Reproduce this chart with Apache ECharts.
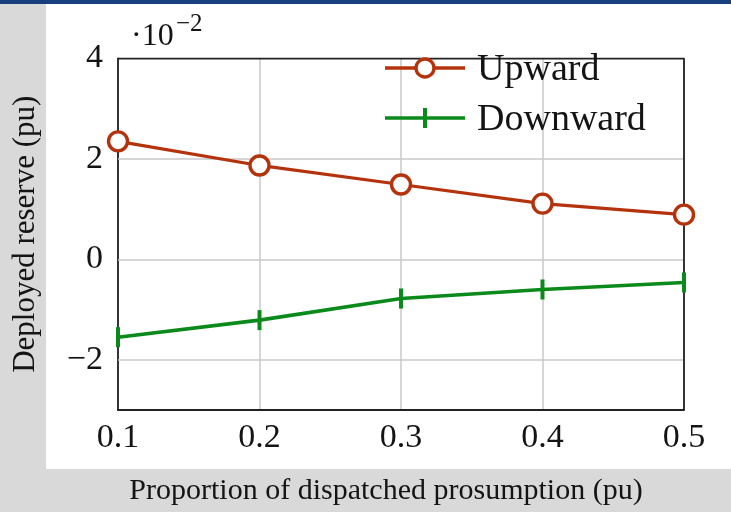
<!DOCTYPE html>
<html>
<head>
<meta charset="utf-8">
<script src="https://cdn.jsdelivr.net/npm/echarts@6/dist/echarts.min.js"></script>
<style>
  html, body { margin: 0; padding: 0; background: #d9d9d9; }
  #chart { width: 731px; height: 512px; }
</style>
</head>
<body>
<div id="chart"></div>
<script>
// Proportion of dispatched prosumption (pu)
const proportions = [0.1, 0.2, 0.3, 0.4, 0.5];
// Deployed reserve, in units of 10^-2 pu
const upward = [2.35, 1.87, 1.49, 1.11, 0.89];
const downward = [-1.55, -1.21, -0.78, -0.60, -0.46];
// labelled y ticks (horizontal grid lines sit on these)
const yTicks = [4, 2, 0, -2];
const seriesNames = ['Upward', 'Downward'];

const serif = '"Liberation Serif", "DejaVu Serif", serif';
const ink = '#141414';
const redColor = '#b5330c';
const greenColor = '#0a8a1a';
const gridColor = '#c9c9c9';

const chart = echarts.init(document.getElementById('chart'), null, { renderer: 'canvas' });

const pairs = (vals) => proportions.map((x, i) => [x, vals[i]]);

// legend drawn by hand: line + marker + label
const legendRow = (y, name, color, marker) => [
  { type: 'line', z: 20, shape: { x1: 385, y1: y, x2: 465, y2: y }, style: { stroke: color, lineWidth: 3.4 } },
  marker,
  {
    type: 'text', z: 20, x: 477, y: y + 2,
    style: { text: name, fontFamily: serif, fontSize: 38, fill: ink, verticalAlign: 'middle' }
  }
];

chart.setOption({
  backgroundColor: '#d9d9d9',
  animation: false,
  graphic: [
    { type: 'rect', z: -10, shape: { x: 0, y: 0, width: 731, height: 4 }, style: { fill: '#163f7c' } },
    { type: 'rect', z: -10, shape: { x: 46, y: 4, width: 685, height: 465 }, style: { fill: '#ffffff' } },
    {
      type: 'text', x: 131, y: 37,
      style: { text: '·10', fontFamily: serif, fontSize: 32, fill: ink, verticalAlign: 'middle' }
    },
    {
      type: 'text', x: 176, y: 24,
      style: { text: '−2', fontFamily: serif, fontSize: 25, fill: ink, verticalAlign: 'middle' }
    },
    {
      type: 'text', x: 386, y: 491,
      style: {
        text: 'Proportion of dispatched prosumption (pu)', fontFamily: serif, fontSize: 30, fill: ink,
        align: 'center', verticalAlign: 'middle'
      }
    },
    ...legendRow(68, seriesNames[0], redColor, {
      type: 'circle', z: 21, shape: { cx: 425, cy: 68, r: 9 },
      style: { fill: '#ffffff', stroke: redColor, lineWidth: 3.4 }
    }),
    ...legendRow(118, seriesNames[1], greenColor, {
      type: 'rect', z: 21, shape: { x: 423, y: 108, width: 4, height: 20 },
      style: { fill: greenColor }
    })
  ],
  grid: { left: 118, right: 47, top: 58.5, bottom: 102 },
  xAxis: {
    type: 'value', min: 0.1, max: 0.5, interval: 0.1,
    axisLine: { show: true, onZero: false, lineStyle: { color: '#222', width: 1.8 } },
    axisTick: { show: false },
    splitLine: { show: true, lineStyle: { color: gridColor, width: 1.5 } },
    axisLabel: {
      fontFamily: serif, fontSize: 34, color: ink, margin: 11,
      formatter: (v) => v.toFixed(1)
    }
  },
  yAxis: {
    type: 'value', min: -3, max: 4, interval: 1,
    name: 'Deployed reserve (pu)', nameLocation: 'middle', nameGap: 77,
    nameTextStyle: { fontFamily: serif, fontSize: 31, color: ink },
    axisLine: { show: true, onZero: false, lineStyle: { color: '#222', width: 1.8 } },
    axisTick: { show: false },
    splitLine: { show: false },
    axisLabel: {
      fontFamily: serif, fontSize: 34, color: ink, margin: 15,
      formatter: (v) => (yTicks.includes(v) ? (v < 0 ? '−' + Math.abs(v) : String(v)) : '')
    }
  },
  series: [
    {
      name: seriesNames[0], type: 'line', data: pairs(upward),
      symbol: 'circle', symbolSize: 19, z: 4,
      lineStyle: { color: redColor, width: 3.2 },
      itemStyle: { color: '#ffffff', borderColor: redColor, borderWidth: 3.4 },
      // horizontal grid lines at the labelled ticks
      markLine: {
        silent: true, symbol: 'none', z: 1,
        label: { show: false },
        lineStyle: { color: gridColor, width: 1.5, type: 'solid' },
        data: yTicks.filter((v) => v < 4).map((v) => ({ yAxis: v }))
      }
    },
    {
      name: seriesNames[1], type: 'line', data: pairs(downward),
      symbol: 'rect', symbolSize: [4, 20], z: 4,
      lineStyle: { color: greenColor, width: 3.6 },
      itemStyle: { color: greenColor }
    },
    // top and right borders of the plot box
    {
      type: 'line', silent: true, symbol: 'none', z: 3,
      data: [[0.1, 4], [0.5, 4], [0.5, -3]],
      lineStyle: { color: '#222', width: 1.8 }
    }
  ]
});
</script>
</body>
</html>
